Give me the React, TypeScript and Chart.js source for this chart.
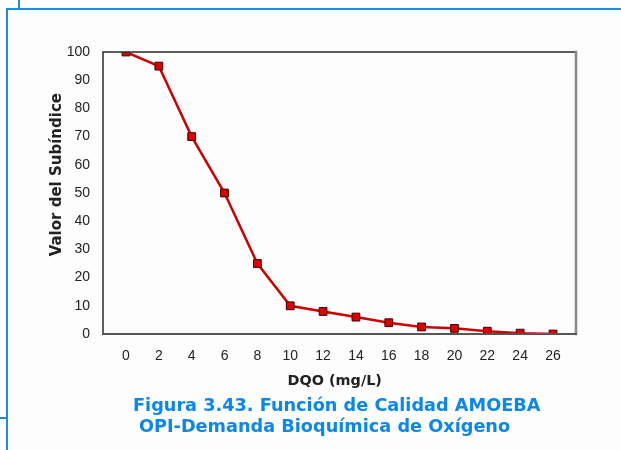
import React, { useEffect, useRef } from "react";
import { Chart, registerables } from "chart.js";

Chart.register(...registerables);

const dqoValues = [0, 2, 4, 6, 8, 10, 12, 14, 16, 18, 20, 22, 24, 26];
const subindexValues = [100, 95, 70, 50, 25, 10, 8, 6, 4, 2.5, 2, 1, 0.3, 0];
const xTickValues = [0, 2, 4, 6, 8, 10, 12, 14, 16, 18, 20, 22, 24, 26];
const yAxisTitle = "Valor del Subíndice";
const xAxisTitle = "DQO (mg/L)";
const captionLine1 = "Figura 3.43. Función de Calidad AMOEBA";
const captionLine2 = "OPI-Demanda Bioquímica de Oxígeno";

const framePlugin = {
  id: "framePlugin",
  afterDatasetsDraw(chart: any) {
    const { ctx, chartArea } = chart;
    const { left, right, top, bottom } = chartArea;
    ctx.save();
    ctx.lineCap = "square";
    ctx.strokeStyle = "#2a2a2a";
    ctx.lineWidth = 1.5;
    ctx.beginPath();
    ctx.moveTo(left, bottom);
    ctx.lineTo(left, top);
    ctx.lineTo(right, top);
    ctx.stroke();
    ctx.strokeStyle = "#888888";
    ctx.lineWidth = 2.5;
    ctx.beginPath();
    ctx.moveTo(right, top);
    ctx.lineTo(right, bottom);
    ctx.stroke();
    ctx.strokeStyle = "#555555";
    ctx.lineWidth = 2;
    ctx.beginPath();
    ctx.moveTo(left, bottom);
    ctx.lineTo(right, bottom);
    ctx.stroke();

    ctx.fillStyle = "#222222";
    ctx.textAlign = "center";
    ctx.textBaseline = "middle";
    ctx.font = "bold 14.4px 'DejaVu Sans'";
    ctx.fillText(xAxisTitle, left + (right - left) * 0.49, bottom + 47);
    ctx.font = "bold 15px 'DejaVu Sans'";
    ctx.translate(left - 46, top + (bottom - top) * 0.435);
    ctx.rotate(-Math.PI / 2);
    ctx.fillText(yAxisTitle, 0, 0);
    ctx.restore();
  },
};

export default function App() {
  const canvasRef = useRef<HTMLCanvasElement | null>(null);

  useEffect(() => {
    if (!canvasRef.current) return;
    const chart = new Chart(canvasRef.current, {
      type: "line",
      data: {
        datasets: [
          {
            data: dqoValues.map((x, i) => ({ x, y: subindexValues[i] })),
            borderColor: "#cc0000",
            borderWidth: 2.5,
            backgroundColor: "#e00000",
            pointStyle: "rect",
            pointRadius: 5.5,
            pointBorderColor: "#3a0000",
            pointBorderWidth: 1,
            pointBackgroundColor: "#e00000",
            tension: 0,
          },
        ],
      },
      options: {
        responsive: false,
        animation: false,
        layout: { padding: { left: 0, top: 52, right: 45, bottom: 0 } },
        plugins: {
          legend: { display: false },
          tooltip: { enabled: false },
        },
        scales: {
          x: {
            type: "linear",
            min: -1.4,
            max: 27.4,
            grid: { display: false, drawTicks: false },
            border: { display: false },
            afterBuildTicks: (scale: any) => {
              scale.ticks = xTickValues.map((v) => ({ value: v }));
            },
            afterFit: (scale: any) => {
              scale.height = 116;
            },
            ticks: {
              padding: 14,
              color: "#222222",
              font: { family: "Liberation Sans", size: 14 },
              maxRotation: 0,
              autoSkip: false,
            },
          },
          y: {
            min: 0,
            max: 100,
            grid: { display: false, drawTicks: false },
            border: { display: false },
            afterFit: (scale: any) => {
              scale.width = 103;
            },
            ticks: {
              stepSize: 10,
              padding: 13,
              color: "#222222",
              font: { family: "Liberation Sans", size: 14 },
            },
          },
        },
      },
      plugins: [framePlugin],
    });
    return () => chart.destroy();
  }, []);

  const blue = "#1f8ae0";
  const captionStyle: React.CSSProperties = {
    position: "absolute",
    whiteSpace: "nowrap",
    color: "#0a86f0",
    fontFamily: "'DejaVu Sans', Verdana, sans-serif",
    fontWeight: "bold",
    fontSize: "17.7px",
    lineHeight: "20px",
  };

  return (
    <div
      style={{
        position: "fixed",
        left: 0,
        top: 0,
        width: 621,
        height: 450,
        background: "#fdfdfd",
        overflow: "hidden",
      }}
    >
      <canvas
        ref={canvasRef}
        width={621}
        height={450}
        style={{ position: "absolute", left: 0, top: 0, width: 621, height: 450 }}
      />
      <div style={{ position: "absolute", left: 6, top: 8, width: 615, height: 2, background: blue }} />
      <div style={{ position: "absolute", left: 6, top: 8, width: 2, height: 442, background: blue }} />
      <div style={{ position: "absolute", left: 18, top: 0, width: 2, height: 9, background: blue }} />
      <div style={{ position: "absolute", left: 0, top: 417, width: 7, height: 2, background: blue }} />
      <div style={{ ...captionStyle, left: 133, top: 395 }}>{captionLine1}</div>
      <div style={{ ...captionStyle, left: 139, top: 416 }}>{captionLine2}</div>
    </div>
  );
}
